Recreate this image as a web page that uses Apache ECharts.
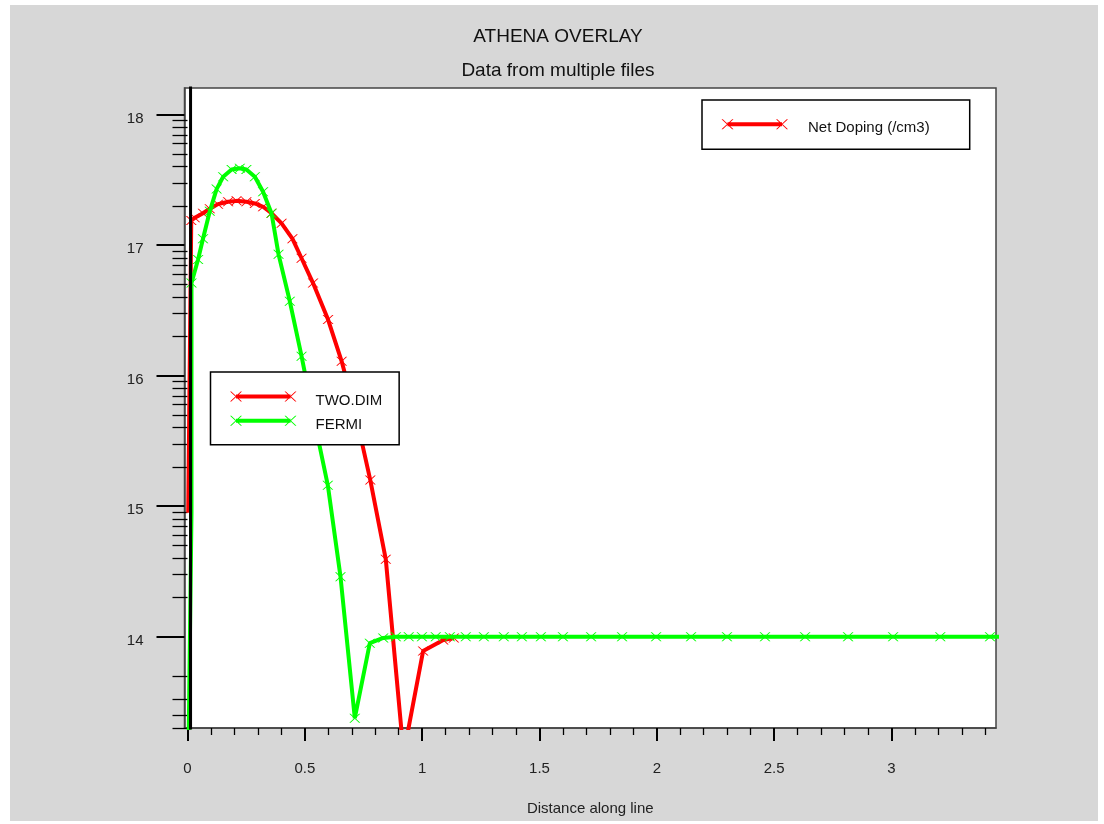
<!DOCTYPE html>
<html><head><meta charset="utf-8">
<script src="https://cdn.jsdelivr.net/npm/echarts@6/dist/echarts.min.js"></script>
<style>
html,body{margin:0;padding:0;background:#fff;}
#bg{position:absolute;left:10px;top:5px;width:1088px;height:816px;background:#d7d7d7;}
#chart{position:absolute;left:0;top:0;width:1104px;height:824px;}
</style></head><body>
<div id="bg"></div><div id="chart"></div>
<script>
// ---- axis ticks ----
const xMajorTicks = [0, 0.5, 1, 1.5, 2, 2.5, 3];
const xMinorTicks = [0.1,0.2,0.3,0.4,0.6,0.7,0.8,0.9,1.1,1.2,1.3,1.4,1.6,1.7,1.8,1.9,2.1,2.2,2.3,2.4,2.6,2.7,2.8,2.9,3.1,3.2,3.3,3.4];
const yMajorTicks = [14, 15, 16, 17, 18];
const yLowMinorTicks = [13.301, 13.398, 13.523, 13.699];
const decadeSteps = [2, 3, 4, 5, 6, 7, 8, 9];

// ---- series values (log10 of concentration) ----
const twoDimX = [0.003, 0.016, 0.031, 0.066, 0.095, 0.130, 0.173, 0.209, 0.251, 0.287, 0.322, 0.358, 0.401, 0.447, 0.486, 0.535, 0.599, 0.657, 0.717, 0.779, 0.845, 0.921, 1.004, 1.09, 1.135];
const twoDimY = [14.95, 17.19, 17.21, 17.245, 17.28, 17.315, 17.333, 17.34, 17.333, 17.32, 17.295, 17.245, 17.168, 17.05, 16.90, 16.71, 16.43, 16.11, 15.70, 15.20, 14.593, 13.10, 13.89, 13.975, 13.99];

const fermiX = [0.0, 0.017, 0.017, 0.045, 0.066, 0.095, 0.124, 0.152, 0.188, 0.223, 0.251, 0.287, 0.322, 0.358, 0.388, 0.436, 0.486, 0.540, 0.598, 0.652, 0.713, 0.777, 0.834, 0.888, 0.943, 0.999, 1.058, 1.118, 1.186, 1.263, 1.348, 1.425, 1.506, 1.600, 1.720, 1.852, 1.997, 2.146, 2.299, 2.461, 2.632, 2.815, 3.007, 3.208, 3.420, 3.600];
const fermiY = [12.5, 14.95, 16.71, 16.89, 17.05, 17.26, 17.43, 17.525, 17.58, 17.59, 17.58, 17.525, 17.41, 17.245, 16.93, 16.57, 16.15, 15.66, 15.16, 14.46, 13.375, 13.95, 13.99, 14.0, 14.0, 14.0, 14.0, 14.0, 14.0, 14.0, 14.0, 14.0, 14.0, 14.0, 14.0, 14.0, 14.0, 14.0, 14.0, 14.0, 14.0, 14.0, 14.0, 14.0, 14.0, 14.0];

const boundaryX = [0.013, 0.013];
const boundaryY = [13.0, 18.5];

// ---- build ----
const yMinorTicks = yLowMinorTicks.slice();
[14, 15, 16, 17].forEach(d => decadeSteps.forEach(k => yMinorTicks.push(d + Math.log10(k))));

function build(xs, ys, hiddenCount) {
  return xs.map((x, i) => i < hiddenCount ? {value: [x, ys[i]], symbol: 'none'} : [x, ys[i]]);
}
const FONT = 'Liberation Sans, Arial, sans-serif';
const crossSymbol = 'path://M0 0L1.3 0L11 9L9.7 9Z M9.7 0L11 0L1.3 9L0 9Z';
// visible glyph in the top 10 units, an invisible speck at y=18 pushes the text 4px lower
const legendIcon = 'path://M6 3H60.5V7H6Z M0 0L1.3 0L12 10L10.7 10Z M10.7 0L12 0L1.3 10L0 10Z M54.5 0L55.8 0L66.5 10L65.2 10Z M65.2 0L66.5 0L55.8 10L54.5 10Z M30 18L30.01 18L30 17.99Z';

const X_MIN = -0.0128, X_MAX = 3.4455, Y_MIN = 13.30, Y_MAX = 18.205;

const chart = echarts.init(document.getElementById('chart'));
chart.setOption({
  animation: false,
  backgroundColor: 'transparent',
  title: [
    {text: 'ATHENA OVERLAY', left: 558, top: 27, textAlign: 'center', padding: 0,
     textStyle: {fontSize: 19, fontWeight: 'normal', color: '#111', fontFamily: FONT}},
    {text: 'Data from multiple files', left: 558, top: 61, textAlign: 'center', padding: 0,
     textStyle: {fontSize: 19, fontWeight: 'normal', color: '#111', fontFamily: FONT}}
  ],
  grid: {left: 184.5, top: 88, width: 811.5, height: 640, show: true,
         backgroundColor: '#ffffff', borderColor: '#444', borderWidth: 1.5},
  legend: [
    {data: [{name: 'Net Doping (/cm3)', icon: legendIcon}],
     left: 702, top: 100, orient: 'horizontal', selectedMode: false,
     padding: [19.3, 40, 12, 19.5], backgroundColor: '#fff', borderColor: '#000', borderWidth: 1.5,
     itemWidth: 66.5, itemHeight: 18, itemStyle: {borderWidth: 0},
     textStyle: {fontSize: 15, color: '#111', fontFamily: FONT, padding: [0, 0, 0, 15]}},
    {data: [{name: 'TWO.DIM', icon: legendIcon}, {name: 'FERMI', icon: legendIcon}],
     left: 210.5, top: 372, orient: 'vertical', selectedMode: false, itemGap: 6.3,
     padding: [19.4, 17, 11, 19.5], backgroundColor: '#fff', borderColor: '#000', borderWidth: 1.5,
     itemWidth: 66.5, itemHeight: 18, itemStyle: {borderWidth: 0},
     textStyle: {fontSize: 15, color: '#111', fontFamily: FONT, padding: [0, 0, 0, 14]}}
  ],
  xAxis: [
    {type: 'value', min: X_MIN, max: X_MAX, position: 'bottom',
     axisLine: {show: true, onZero: false, lineStyle: {color: '#444', width: 1.5}},
     axisTick: {show: true, customValues: xMajorTicks, length: 13, lineStyle: {color: '#000', width: 2}},
     axisLabel: {customValues: xMajorTicks, margin: 33, fontSize: 15, color: '#222', fontFamily: FONT,
                 formatter: v => String(v)},
     splitLine: {show: false},
     name: 'Distance along line', nameLocation: 'middle', nameGap: 73,
     nameTextStyle: {fontSize: 15, color: '#222', fontFamily: FONT}},
    {type: 'value', min: X_MIN, max: X_MAX, position: 'bottom',
     axisLine: {show: false},
     axisTick: {show: true, customValues: xMinorTicks, length: 7, lineStyle: {color: '#000', width: 1.3}},
     axisLabel: {show: false}, splitLine: {show: false}}
  ],
  yAxis: [
    {type: 'value', min: Y_MIN, max: Y_MAX, position: 'left',
     axisLine: {show: true, onZero: false, lineStyle: {color: '#444', width: 1.5}},
     axisTick: {show: true, customValues: yMajorTicks, length: 28, lineStyle: {color: '#000', width: 2}},
     axisLabel: {customValues: yMajorTicks, margin: 41, fontSize: 15, color: '#222', fontFamily: FONT,
                 verticalAlign: 'top', lineHeight: 8, formatter: v => String(v)},
     splitLine: {show: false}},
    {type: 'value', min: Y_MIN, max: Y_MAX, position: 'left',
     axisLine: {show: false},
     axisTick: {show: true, customValues: yMinorTicks, length: 15, lineStyle: {color: '#000', width: 1.3}},
     axisLabel: {show: false}, splitLine: {show: false}}
  ],
  series: [
    {name: 'Net Doping (/cm3)', type: 'line', data: [], itemStyle: {color: '#ff0000'}},
    {name: 'TWO.DIM', type: 'line', xAxisIndex: 0, yAxisIndex: 0, data: build(twoDimX, twoDimY, 1),
     symbol: crossSymbol, symbolSize: [11, 9], showAllSymbol: true, clip: true,
     lineStyle: {color: '#ff0000', width: 4}, itemStyle: {color: '#ff0000', borderWidth: 0}, z: 2},
    {name: 'FERMI', type: 'line', xAxisIndex: 0, yAxisIndex: 0, data: build(fermiX, fermiY, 2),
     symbol: crossSymbol, symbolSize: [11, 9], showAllSymbol: true, clip: true,
     lineStyle: {color: '#00ff00', width: 4}, itemStyle: {color: '#00ff00', borderWidth: 0}, z: 3},
    {name: 'boundary', type: 'line', xAxisIndex: 0, yAxisIndex: 0,
     data: boundaryX.map((x, i) => [x, boundaryY[i]]), symbol: 'none', clip: true,
     lineStyle: {color: '#000', width: 3}, z: 4, silent: true}
  ]
});
</script>
</body></html>
